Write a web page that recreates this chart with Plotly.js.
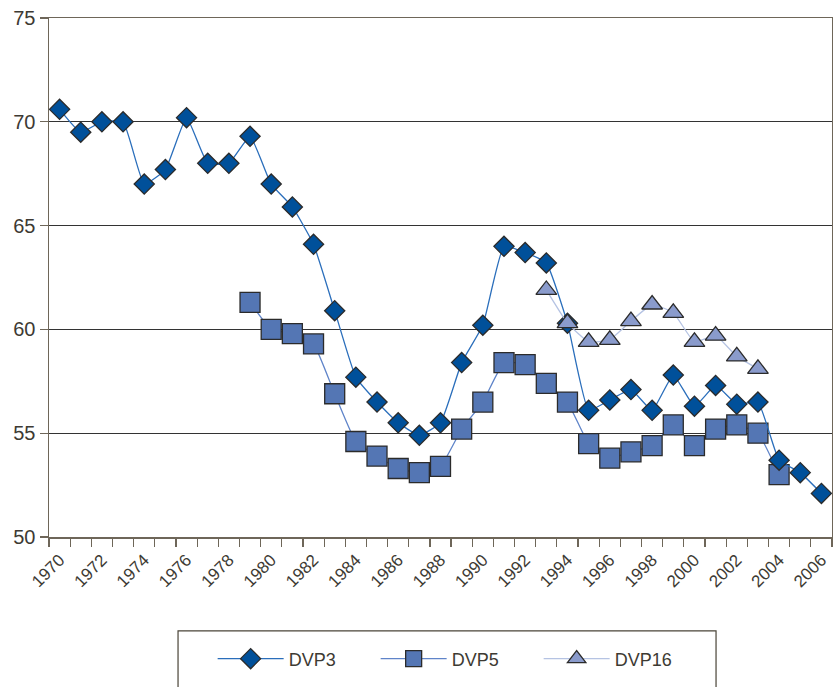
<!DOCTYPE html>
<html>
<head>
<meta charset="utf-8">
<script src="https://cdn.plot.ly/plotly-3.0.1.min.js"></script>
<style>html,body{margin:0;padding:0;background:#fff;}#chart{width:833px;height:687px;}</style>
</head>
<body>
<div id="chart"></div>
<script>
// Data
var yearsDVP3 = [1970,1971,1972,1973,1974,1975,1976,1977,1978,1979,1980,1981,1982,1983,1984,1985,1986,1987,1988,1989,1990,1991,1992,1993,1994,1995,1996,1997,1998,1999,2000,2001,2002,2003,2004,2005,2006];
var valuesDVP3 = [70.6,69.5,70.0,70.0,67.0,67.7,70.2,68.0,68.0,69.3,67.0,65.9,64.1,60.9,57.7,56.5,55.5,54.9,55.5,58.4,60.2,64.0,63.7,63.2,60.3,56.1,56.6,57.1,56.1,57.8,56.3,57.3,56.4,56.5,53.7,53.1,52.1];
var yearsDVP5 = [1979,1980,1981,1982,1983,1984,1985,1986,1987,1988,1989,1990,1991,1992,1993,1994,1995,1996,1997,1998,1999,2000,2001,2002,2003,2004];
var valuesDVP5 = [61.3,60.0,59.8,59.3,56.9,54.6,53.9,53.3,53.1,53.4,55.2,56.5,58.4,58.3,57.4,56.5,54.5,53.8,54.1,54.4,55.4,54.4,55.2,55.4,55.0,53.0];
var yearsDVP16 = [1993,1994,1995,1996,1997,1998,1999,2000,2001,2002,2003];
var valuesDVP16 = [61.9,60.3,59.4,59.5,60.4,61.2,60.8,59.4,59.7,58.7,58.1];
var xTickVals = [1970,1972,1974,1976,1978,1980,1982,1984,1986,1988,1990,1992,1994,1996,1998,2000,2002,2004,2006];
var xTickText = ["1970","1972","1974","1976","1978","1980","1982","1984","1986","1988","1990","1992","1994","1996","1998","2000","2002","2004","2006"];
var yTickVals = [50,55,60,65,70,75];

var FONT = '"Liberation Sans", Arial, sans-serif';
var TXT = '#3d3a33';
var AX = '#6e6659';
var OUT = '#2b2b2b';

var traces = [
  {
    name: 'DVP5', x: yearsDVP5, y: valuesDVP5, type: 'scatter', mode: 'lines+markers',
    legendrank: 2,
    line: {color: '#5f84c9', width: 1.3, shape: 'spline', smoothing: 0.4},
    marker: {symbol: 'square', size: 20, color: '#5476b4', line: {color: OUT, width: 1.3}}
  },
  {
    name: 'DVP3', x: yearsDVP3, y: valuesDVP3, type: 'scatter', mode: 'lines+markers',
    legendrank: 1,
    line: {color: '#2a6ebb', width: 1.3, shape: 'spline', smoothing: 0.4},
    marker: {symbol: 'diamond', size: 15.5, color: '#00509a', line: {color: OUT, width: 1.3}}
  },
  {
    name: 'DVP16', x: yearsDVP16, y: valuesDVP16, type: 'scatter', mode: 'lines+markers',
    legendrank: 3,
    line: {color: '#b5c3e3', width: 1.3, shape: 'spline', smoothing: 0.4},
    marker: {symbol: 'triangle-up', size: 18, color: '#8a9bcc', line: {color: OUT, width: 1.3}}
  }
];

var layout = {
  width: 833, height: 687,
  margin: {l: 49, r: 1, t: 18, b: 150},
  paper_bgcolor: '#fff', plot_bgcolor: '#fff',
  font: {family: FONT, color: TXT},
  showlegend: true,
  legend: {
    orientation: 'h', x: 0.209, xanchor: 'left', y: -0.235, yanchor: 'middle',
    font: {family: FONT, size: 18, color: TXT},
    itemwidth: 66, entrywidth: 82, entrywidthmode: 'pixels',
    traceorder: 'normal', bgcolor: 'rgba(0,0,0,0)', borderwidth: 0
  },
  xaxis: {
    range: [1969.5, 2006.5], tickmode: 'array', tickvals: xTickVals, ticktext: xTickText,
    tickangle: -45, ticks: '', ticklabelstandoff: 5, tickfont: {family: FONT, size: 17, color: TXT},
    showline: true, linecolor: AX, linewidth: 1.5, mirror: true,
    showgrid: false, zeroline: false, fixedrange: true,
    minor: {tickmode: 'linear', tick0: 1969.5, dtick: 1, ticks: 'outside', ticklen: 8, tickcolor: AX, tickwidth: 1.2, showgrid: false}
  },
  yaxis: {
    range: [50, 75], tickmode: 'array', tickvals: yTickVals,
    ticks: 'outside', ticklen: 8, tickcolor: AX, tickwidth: 1.2,
    tickfont: {family: FONT, size: 20, color: TXT},
    showline: true, linecolor: AX, linewidth: 1.5, mirror: true,
    showgrid: true, gridcolor: '#333', gridwidth: 1, zeroline: false, fixedrange: true
  },
  shapes: [
    {type: 'rect', xref: 'paper', yref: 'paper', x0: 0.1648, x1: 0.8519, y0: -0.181, y1: -0.32,
     line: {color: '#4a4438', width: 1.2}, fillcolor: 'rgba(0,0,0,0)', layer: 'below'}
  ]
};

Plotly.newPlot('chart', traces, layout, {staticPlot: true, displayModeBar: false});
</script>
</body>
</html>
